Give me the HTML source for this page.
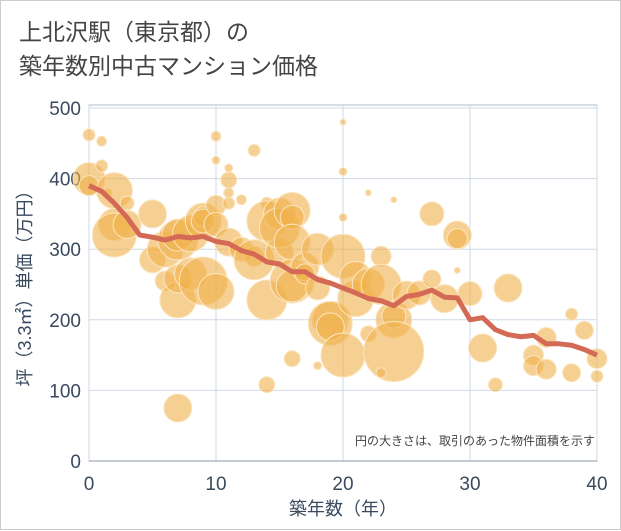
<!DOCTYPE html>
<html><head><meta charset="utf-8"><style>
body{margin:0;background:#fff;}
#wrap{position:relative;width:619px;height:528px;border:1px solid #ccc;font-family:"Liberation Sans","Noto Sans CJK JP",sans-serif;}
#title{position:absolute;left:18px;top:14px;font-size:23px;line-height:34px;color:#444;}
svg{position:absolute;left:0;top:0;}
</style></head><body>
<div id="wrap">
<div id="title">上北沢駅（東京都）の<br>築年数別中古マンション価格</div>
<svg id="chart" width="621" height="530"></svg>
</div>
<script>
const xTicks=[0,10,20,30,40];
const yTicks=[0,100,200,300,400,500];
const lineAges=[0,1,2,3,4,5,6,7,8,9,10,11,12,13,14,15,16,17,18,19,20,21,22,23,24,25,26,27,28,29,30,31,32,33,34,35,36,37,38,39,40];
const linePrices=[390,382,365,345,320,317,313,318,316,318,311,308,298,293,282,279,268,268,257,252,245,238,230,227,220,233,236,242,232,231,200,203,186,179,176,178,166,166,164,158,150];
const bubbleAges=[0,0,0,1,1,1.5,2,2,2,3,3,5,5,6,6,7,7,7,7,7,8,8,9,9,9,9,10,10,10,10,10,11,11,11,11,11,12,12,13,13,13,14,14,14,14,15,15,15,16,16,16,16,16,16,17,17,18,18,19,19,19,20,20,20,20,20,21,21,22,22,22,23,23,24,24,24,24,25,26,27,27,28,29,29,30,31,32,33,35,35,36,36,38,38,39,40,40,29,23,18];
const bubblePrices=[462,400,390,453,418,380,383,335,320,365,335,350,285,300,255,313,320,228,258,75,322,265,340,346,255,340,362,335,240,460,426,415,398,380,365,310,370,300,290,285,440,365,340,228,108,350,295,330,355,345,310,255,248,145,275,265,300,245,200,195,190,480,410,345,290,150,230,260,380,250,180,290,250,200,205,155,370,235,238,350,258,230,320,315,237,160,108,245,150,135,175,130,208,125,185,145,120,270,125,135];
const bubbleSizes=[6,16,10,5,6,4,18,16,22,7,14,14,13,18,10,20,16,18,14,14,18,16,18,10,24,12,10,12,18,5,4,4,8,5,6,14,5,12,10,20,6,6,20,20,8,16,14,20,18,12,18,22,16,8,14,10,16,12,18,22,14,3,4,4,22,22,18,16,3,16,8,10,20,18,12,30,3,14,12,12,9,14,14,10,12,14,7,14,10,10,10,10,6,9,9,10,6,3,5,4];
const svg=document.getElementById('chart');const NS='http://www.w3.org/2000/svg';
const X0=88,X1=596,Y0=460,Y1=107;
const sx=v=>X0+(X1-X0)*v/40, sy=v=>Y0-(Y0-Y1)*v/500;
function mk(t,a){const e=document.createElementNS(NS,t);for(const k in a)e.setAttribute(k,a[k]);svg.appendChild(e);return e;}
let e=mk('rect',{x:X0,y:104,width:X1-X0,height:Y0-104,fill:'#fff',stroke:'#b0bccb'});


yTicks.forEach(v=>{let g=mk('line',{x1:X0,x2:X1,y1:sy(v),y2:sy(v),stroke:'#cfd9e6','stroke-width':1});


let t=mk('text',{x:X0-8,y:sy(v)+7,'text-anchor':'end','font-size':19,fill:'#3a4a5e'});t.textContent=v;

});
xTicks.forEach(v=>{let g=mk('line',{x1:sx(v),x2:sx(v),y1:104,y2:Y0,stroke:'#cfd9e6','stroke-width':1});


let t=mk('text',{x:sx(v),y:Y0+29,'text-anchor':'middle','font-size':19,fill:'#3a4a5e'});t.textContent=v;

});
let ax=mk('line',{x1:X0,x2:X1,y1:Y0,y2:Y0,stroke:'#8a96a6'});


bubbleAges.forEach((a,i)=>{let c=mk('circle',{cx:sx(a),cy:sy(bubblePrices[i]),r:bubbleSizes[i],fill:'#f0b04a','fill-opacity':0.6,stroke:'#fbe5c0','stroke-width':1});

});
let p=mk('polyline',{points:lineAges.map((a,i)=>sx(a)+','+sy(linePrices[i])).join(' '),fill:'none',stroke:'#d46a55','stroke-width':5,'stroke-linejoin':'round'});


let n=mk('text',{x:594,y:444,'text-anchor':'end','font-size':12,fill:'#444'});n.textContent='円の大きさは、取引のあった物件面積を示す';


let xt=mk('text',{x:342,y:514,'text-anchor':'middle','font-size':18,fill:'#3a4a5e'});xt.textContent='築年数（年）';


let yt=mk('text',{x:0,y:0,'text-anchor':'middle','font-size':18,fill:'#3a4a5e',transform:'translate(30,283) rotate(-90)'});yt.textContent='坪（3.3㎡）単価（万円）';


</script>
</body></html>
